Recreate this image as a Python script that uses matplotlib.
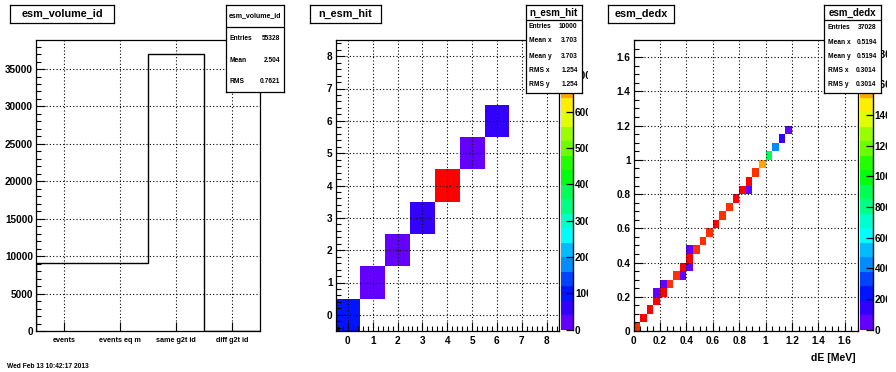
import colorsys
import numpy as np
import matplotlib
matplotlib.use('Agg')
import matplotlib.pyplot as plt
import matplotlib.ticker as ticker
from matplotlib.colors import ListedColormap, Normalize
from matplotlib.transforms import Bbox, TransformedBbox

plt.rcParams['font.family'] = ['Liberation Sans', 'DejaVu Sans']
plt.rcParams['font.weight'] = 'bold'

W, H = 896, 372

# esm_volume_id
vol_labels = ['events', 'events eq m', 'same g2t id', 'diff g2t id']
vol_counts = [9150, 9150, 37028, 0]
vol_stats = [('Entries', '55328'), ('Mean', '2.504'), ('RMS', '0.7621')]

# n_esm_hit
hit_x = [0, 1, 2, 3, 4, 5, 6]
hit_y = [0, 1, 2, 3, 4, 5, 6]
hit_counts = [850, 60, 60, 420, 7970, 140, 500]
hit_stats = [('Entries', '10000'), ('Mean x', '3.703'), ('Mean y', '3.703'),
             ('RMS x', '1.254'), ('RMS y', '1.254')]

# esm_dedx
dedx_x = [0.025, 0.075, 0.125, 0.175, 0.225, 0.275, 0.325, 0.375, 0.425, 0.475,
          0.525, 0.575, 0.625, 0.675, 0.725, 0.775, 0.825, 0.875, 0.925, 0.975,
          1.025, 1.075, 1.125, 1.175,
          0.175, 0.225, 0.375, 0.425, 0.425, 0.875]
dedx_y = [0.025, 0.075, 0.125, 0.175, 0.225, 0.275, 0.325, 0.375, 0.425, 0.475,
          0.525, 0.575, 0.625, 0.675, 0.725, 0.775, 0.825, 0.875, 0.925, 0.975,
          1.025, 1.075, 1.125, 1.175,
          0.225, 0.275, 0.325, 0.375, 0.475, 0.825]
dedx_counts = [1720, 1818, 1820, 1800, 1800, 1760, 1745, 1800, 1890, 1710,
               1740, 1730, 1805, 1765, 1750, 1815, 1800, 1800, 1725, 1540,
               900, 420, 130, 40,
               35, 40, 30, 45, 25, 30]
dedx_stats = [('Entries', '37028'), ('Mean x', '0.5194'), ('Mean y', '0.5194'),
              ('RMS x', '0.3014'), ('RMS y', '0.3014')]


def root_palette(n=20, ncolors=50):
    cols = []
    for k in range(n):
        idx = int((k + 0.99) * ncolors / n)
        hue = 280 - (idx + 1) * 280 / ncolors
        cols.append(colorsys.hls_to_rgb(hue / 360, 0.5, 1.0))
    return ListedColormap(cols)


cmap = root_palette()


def box(x0, y0, x1, y1):
    return [x0 / W, 1 - y1 / H, (x1 - x0) / W, (y1 - y0) / H]


def px(x, y):
    return x / W, 1 - y / H


def style_axes(ax):
    for sp in ax.spines.values():
        sp.set_linewidth(0.9)
    ax.tick_params(which='major', direction='in', length=6.5, width=0.8, labelsize=7.2, pad=2)
    ax.tick_params(which='minor', direction='in', length=3.3, width=0.8)
    ax.tick_params(axis='x', pad=3.5)
    ax.grid(True, which='major', color='k', ls=(0, (1, 2)), lw=0.8)
    ax.set_axisbelow(False)


def title_box(x0, y0, x1, y1, text, size=7.8):
    ta = fig.add_axes(box(x0, y0, x1, y1), zorder=5)
    ta.set_xticks([])
    ta.set_yticks([])
    for sp in ta.spines.values():
        sp.set_linewidth(0.9)
    ta.text(0.5, 0.5, text, transform=ta.transAxes, ha='center', va='center', fontsize=size)


def stats_box(x0, y0, x1, y1, title, title_y, title_size, sep_y, rows, row_ys, lab_x, val_x):
    sa = fig.add_axes(box(x0, y0, x1, y1), zorder=5)
    sa.set_xticks([])
    sa.set_yticks([])
    for sp in sa.spines.values():
        sp.set_linewidth(0.9)
    sa.text(*px((x0 + x1) / 2, title_y), title, transform=fig.transFigure,
            ha='center', va='center', fontsize=title_size)
    sa.plot([x0 / W, x1 / W], [1 - sep_y / H] * 2, transform=fig.transFigure, color='k', lw=0.9)
    for (lab, val), y in zip(rows, row_ys):
        sa.text(*px(lab_x, y), lab, transform=fig.transFigure, ha='left', va='center', fontsize=4.8)
        sa.text(*px(val_x, y), val, transform=fig.transFigure, ha='right', va='center', fontsize=4.8)


def palette(cax, mesh, tick_vals):
    cb = fig.colorbar(mesh, cax=cax, ticks=tick_vals)
    cb.outline.set_visible(False)
    cb.minorticks_off()
    cb.formatter = ticker.FormatStrFormatter('%d')
    cb.update_ticks()
    cax.spines['right'].set_visible(True)
    cax.spines['right'].set_linewidth(1.0)
    cax.tick_params(direction='in', length=5, width=0.9, labelsize=7.2, pad=1.5)
    return cb


fig = plt.figure(figsize=(W / 100, H / 100), dpi=100)

# ---- pad 1: esm_volume_id
ax1 = fig.add_axes(box(36, 40, 260, 331))
edges1 = np.arange(0.5, len(vol_counts) + 1, 1.0)
ax1.stairs(vol_counts, edges1, color='k', lw=1.0, baseline=0)
ax1.set_xlim(edges1[0], edges1[-1])
ax1.set_ylim(0, max(vol_counts) * 1.05)
ax1.set_xticks(np.arange(1, len(vol_labels) + 1))
ax1.set_xticklabels(vol_labels)
ax1.yaxis.set_major_locator(ticker.MultipleLocator(5000))
ax1.yaxis.set_minor_locator(ticker.MultipleLocator(1000))
style_axes(ax1)
ax1.tick_params(axis='x', labelsize=5.2, pad=4)
title_box(10, 5, 114, 23, 'esm_volume_id')
stats_box(226, 5, 284, 92, 'esm_volume_id', 15.5, 5.0, 27, vol_stats, [38.5, 60.5, 81.5], 230, 280)

# ---- pad 2: n_esm_hit
ax2 = fig.add_axes(box(335.5, 40, 559, 331))
edges2 = np.arange(-0.5, 9.0, 1.0)
norm2 = Normalize(0, max(hit_counts))
mesh2 = ax2.hist2d(hit_x, hit_y, bins=[edges2, edges2], weights=hit_counts,
                   cmap=cmap, norm=norm2, cmin=1)[3]
ax2.set_xlim(-0.5, 8.5)
ax2.set_ylim(-0.5, 8.5)
ax2.set_xticks(range(9))
ax2.set_yticks(range(9))
ax2.xaxis.set_minor_locator(ticker.MultipleLocator(0.2))
ax2.yaxis.set_minor_locator(ticker.MultipleLocator(0.2))
style_axes(ax2)
cax2 = fig.add_axes(box(561, 40, 573, 329.5))
palette(cax2, mesh2, list(range(0, 8000, 1000)))
title_box(309.5, 5, 380.5, 23, 'n_esm_hit')
stats_box(525.5, 5, 582, 92.5, 'n_esm_hit', 12.5, 7.0, 19.5, hit_stats,
          [26.5, 41, 56, 70.5, 85], 528.5, 577.5)

# ---- pad 3: esm_dedx
ax3 = fig.add_axes(box(633.5, 40, 858, 331))
edges3 = np.linspace(0, 1.7, 35)
norm3 = Normalize(0, max(dedx_counts))
mesh3 = ax3.hist2d(dedx_x, dedx_y, bins=[edges3, edges3], weights=dedx_counts,
                   cmap=cmap, norm=norm3, cmin=1)[3]
ax3.set_xlim(0, 1.7)
ax3.set_ylim(0, 1.7)
for axis in (ax3.xaxis, ax3.yaxis):
    axis.set_major_locator(ticker.MultipleLocator(0.2))
    axis.set_minor_locator(ticker.MultipleLocator(0.05))
    axis.set_major_formatter(ticker.FuncFormatter(lambda v, p: '%g' % round(v, 2)))
style_axes(ax3)
cax3 = fig.add_axes(box(860, 40, 872.5, 329.5))
palette(cax3, mesh3, list(range(0, 2000, 200)))
title_box(608, 5, 674, 23, 'esm_dedx')
stats_box(824, 5, 881, 93, 'esm_dedx', 13, 7.0, 19.5, dedx_stats,
          [27.5, 42, 56, 70.5, 85], 827.5, 876.5)

fig.text(*px(856, 358), 'dE [MeV]', ha='right', va='center', fontsize=7.5)
fig.text(*px(7, 367), 'Wed Feb 13 10:42:17 2013', ha='left', va='center', fontsize=4.8)

# palette labels are cut at the right edge of their pad
fig.canvas.draw()
for cax, edge in ((cax2, 587.5), (cax3, 886.5)):
    clip = TransformedBbox(Bbox.from_extents(0, 0, edge / W, 1), fig.transFigure)
    for lab in cax.yaxis.get_ticklabels():
        lab.set_clip_box(clip)
        lab.set_clip_on(True)

fig.savefig('out.png', dpi=100)
